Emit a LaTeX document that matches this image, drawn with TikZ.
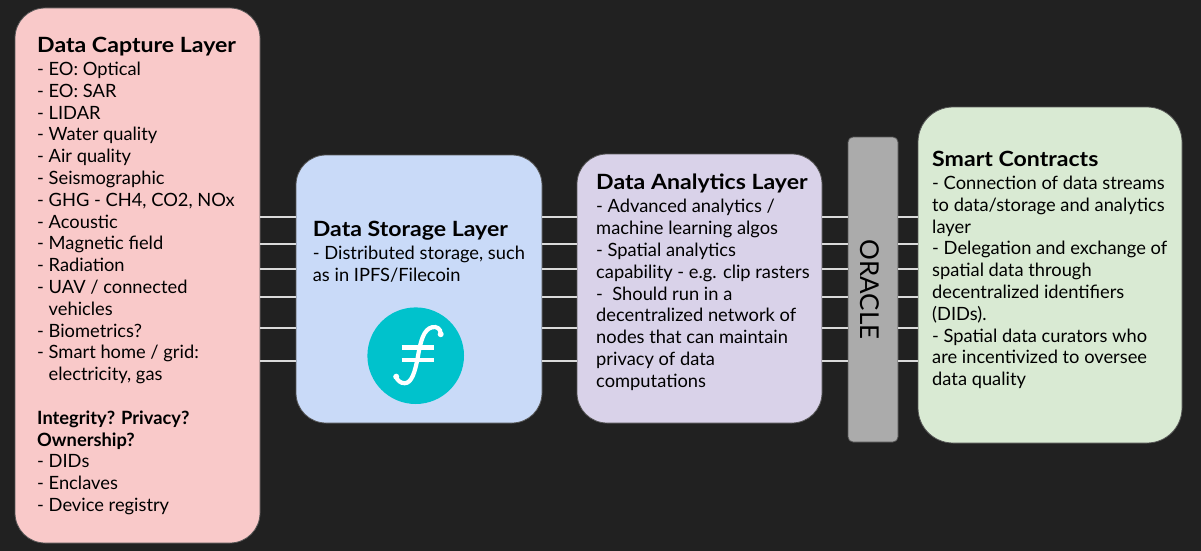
\documentclass[tikz,border=0pt]{standalone}
\usepackage{fontspec}
\setmainfont{Lato}
\definecolor{bgdark}{HTML}{212121}
\definecolor{edgegray}{HTML}{555555}
\definecolor{linkgray}{HTML}{DADADA}
\definecolor{pinkcap}{HTML}{F9C9C9}
\definecolor{bluesto}{HTML}{C9DAF8}
\definecolor{purpana}{HTML}{D9D2E9}
\definecolor{grayora}{HTML}{ABABAB}
\definecolor{greencon}{HTML}{D9EAD3}
\definecolor{filecoin}{HTML}{00C2CC}
\newcommand\hd[1]{{\fontsize{21}{23}\selectfont\bfseries\addfontfeature{FakeStretch=1.1}#1}}
\newcommand\ind{\phantom{- }}

\begin{document}
\begin{tikzpicture}
  [x=1pt,y=-1pt,
   layer/.style={rounded corners=30pt,draw=edgegray,line width=0.8pt,inner sep=0pt,outer sep=0pt},
   txt/.style={anchor=north west,align=left,inner sep=0pt,font=\fontsize{18.3}{21.8}\selectfont},
   link/.style={draw=linkgray,line width=2.5pt}]
  \fill[bgdark] (0,0) rectangle (1201,551);
  \node[layer,fill=pinkcap,minimum width=245pt,minimum height=535pt] (capture) at (137.5,275.5) {};
  \node[layer,fill=bluesto,minimum width=246pt,minimum height=268pt] (storage) at (419,289) {};
  \node[layer,fill=purpana,minimum width=245pt,minimum height=269pt] (analytics) at (699.5,288.5) {};
  \node[layer,fill=grayora,rounded corners=5pt,minimum width=50pt,minimum height=305pt] (oracle) at (873,289.5) {};
  \node[layer,fill=greencon,rounded corners=35pt,minimum width=264pt,minimum height=336pt] (contracts) at (1050,275) {};
  \foreach \y [count=\i] in {217,244,269,297,328,361}
    \coordinate (lv\i) at (0,\y);
  \foreach \from/\to in {capture/storage,storage/analytics,analytics/oracle,oracle/contracts}
    \foreach \i in {1,...,6}
      \draw[link] (\from.east |- lv\i) -- (\to.west |- lv\i);
  \node[txt] (capturetxt) at (37,37) {\hd{Data Capture Layer}\\[1.2pt]
    - EO: Optical\\ - EO: SAR\\ - LIDAR\\ - Water quality\\ - Air quality\\
    - Seismographic\\ - GHG - CH4, CO2, NOx\\ - Acoustic\\ - Magnetic field\\
    - Radiation\\ - UAV / connected\\ \ind vehicles\\ - Biometrics?\\
    - Smart home / grid:\\ \ind electricity, gas\\[21.8pt]
    \textbf{Integrity? Privacy?}\\ \textbf{Ownership?}\\
    - DIDs\\ - Enclaves\\ - Device registry};
  \node[txt] (storagetxt) at (312.7,221) {\hd{Data Storage Layer}\\[1.2pt]
    - Distributed storage, such\\ as in IPFS/Filecoin};
  \node[circle,fill=filecoin,minimum size=96.6pt,inner sep=0pt] (logo) at (415.7,355.7) {};
  \begin{scope}[shift={(logo.center)},white]
    \draw[line width=4.2pt,line cap=round] (25,-22) .. controls (25,-27) and (21,-29.5) .. (16.5,-28.5)
      .. controls (8,-26.5) and (5,-15) .. (2.3,0.3) .. controls (-0.5,16) and (-4,27.5) .. (-11,27.5)
      .. controls (-15,27.5) and (-18,25) .. (-19.5,21.5);
    \fill (25,-21.5) circle (3pt);
    \fill (-19.5,21) circle (3pt);
    \draw[line width=4.5pt] (-14,-8) -- (18,-8);
    \draw[line width=4.5pt] (-14,4.3) -- (18,4.3);
  \end{scope}
  \node[txt] (analyticstxt) at (596,174) {\hd{Data Analytics Layer}\\[1.2pt]
    - Advanced analytics /\\ machine learning algos\\ - Spatial analytics\\
    capability - e.g. clip rasters\\ -\ \ Should run in a\\
    decentralized network of\\ nodes that can maintain\\ privacy of data\\ computations};
  \node[rotate=-90,inner sep=0pt,font=\fontsize{26}{26}\selectfont] (oracletxt) at ([xshift=-3pt]oracle.center) {ORACLE};
  \node[txt] (contractstxt) at (932,151) {\hd{Smart Contracts}\\[1.2pt]
    - Connection of data streams\\ to data/storage and analytics\\ layer\\
    - Delegation and exchange of\\ spatial data through\\
    decentralized identifiers\\ (DIDs).\\ - Spatial data curators who\\
    are incentivized to oversee\\ data quality};
\end{tikzpicture}
\end{document}
